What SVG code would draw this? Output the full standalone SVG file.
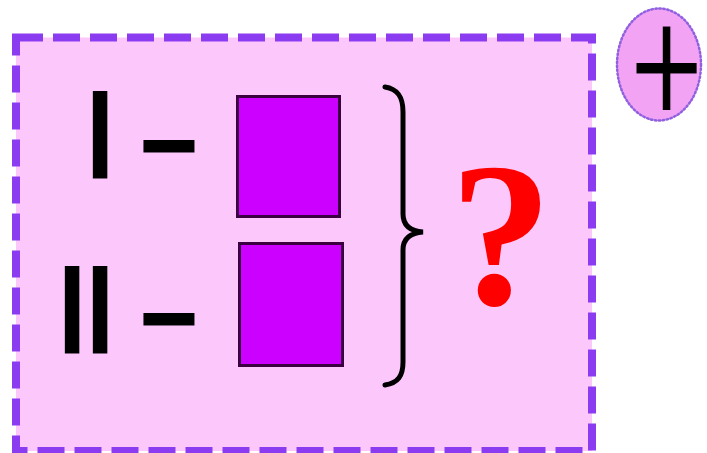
<svg xmlns="http://www.w3.org/2000/svg" width="707" height="453" viewBox="0 0 707 453">
  <style>
    .numeral { font-family: "Liberation Sans", Arial, sans-serif; font-size: 123px; fill: #000; stroke: #000; stroke-width: 3px; }
    .dash { font-family: "Liberation Sans", Arial, sans-serif; font-weight: bold; font-size: 97px; fill: #000; stroke: #000; stroke-width: 3px; }
    .slot { fill: #cc00ff; stroke: #3a0040; stroke-width: 3px; }
  </style>
  <rect x="0" y="0" width="707" height="453" fill="#ffffff"/>
  <g id="frame">
    <rect x="16" y="37.5" width="576" height="413.5" fill="#fcc8fc" stroke="#8c3cf0" stroke-width="8" stroke-dasharray="27 10"/>
  </g>
  <g id="row1">
    <text class="numeral" x="83" y="176.5">I</text>
    <text class="dash" x="142" y="171.5">–</text>
    <rect class="slot" x="237.5" y="96.5" width="102" height="120"/>
  </g>
  <g id="row2">
    <text class="numeral" x="55 83" y="351.5">II</text>
    <text class="dash" x="142" y="345">–</text>
    <rect class="slot" x="239.5" y="243.5" width="103" height="122"/>
  </g>
  <g id="connectors">
    <path d="M385,87 C398,89 403,97 403,112 L403,214 C403,225 410,231 423,232 C410,233 403,239 403,250 L403,362 C403,376 398,383 385,385" fill="none" stroke="#000" stroke-width="5" stroke-linecap="round"/>
  </g>
  <g id="question">
    <text x="501" y="304" text-anchor="middle" font-family="Liberation Serif, 'Times New Roman', serif" font-weight="bold" font-size="205" fill="#ff0000">?</text>
  </g>
  <g id="plus">
    <ellipse cx="659" cy="64.5" rx="42" ry="56" fill="#f3a3f3" stroke="#9060e0" stroke-width="2.5" stroke-dasharray="1.5 2.5" stroke-linecap="round"/>
    <g transform="translate(666.5,64.5) scale(1,1.37)">
      <text x="0" y="44.8" text-anchor="middle" font-family="'Liberation Sans', Arial, sans-serif" font-size="127" fill="#000" stroke="#f3a3f3" stroke-width="1.5">+</text>
    </g>
  </g>
</svg>
